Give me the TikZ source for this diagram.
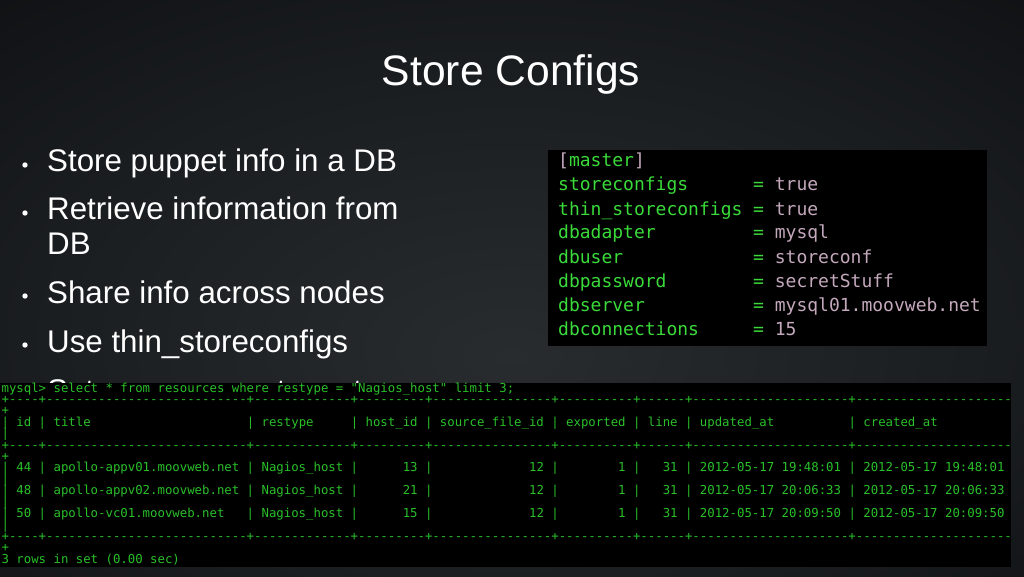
\documentclass[tikz,border=0pt]{standalone}
\usepackage{fontspec}
\setmainfont{Liberation Sans}
\setmonofont{DejaVu Sans Mono}
\usetikzlibrary{positioning}

\definecolor{bgmid}{RGB}{40,44,47}
\definecolor{bgring}{RGB}{26,29,32}
\definecolor{bgedge}{RGB}{7,8,10}
\definecolor{cfggreen}{RGB}{58,218,58}
\definecolor{cfgvalue}{RGB}{196,168,188}
\definecolor{sqlgreen}{RGB}{42,192,42}
\pgfdeclareradialshading{slidebg}{\pgfpoint{0bp}{-6bp}}{%
  color(0bp)=(bgmid); color(24bp)=(bgring); color(50bp)=(bgedge); color(75bp)=(bgedge)}

% padding for the mysql output
\newcommand{\sqlpad}[1]{\foreach \n in {1,...,#1}{\ }}
\newcommand{\sqldash}[1]{\foreach \n in {1,...,#1}{-}}
\newcommand{\sqlquery}{mysql> select * from resources where restype = "Nagios\_host" limit 3;}
\newcommand{\sqlrule}{+\sqldash{4}+\sqldash{27}+\sqldash{13}+\sqldash{9}+\sqldash{16}+\sqldash{10}+\sqldash{6}+\sqldash{21}+\sqldash{21}}
\newcommand{\sqlhead}{| id | title\sqlpad{21}| restype\sqlpad{5}| host\_id | source\_file\_id | exported | line | updated\_at\sqlpad{10}| created\_at\sqlpad{10}}
\newcommand{\sqlrow}[5]{| #1 | #2\sqlpad{#3}| Nagios\_host |\sqlpad{6}#4 |\sqlpad{13}12 |\sqlpad{8}1 |\sqlpad{3}31 | 2012-05-17 #5 | 2012-05-17 #5}
\newcommand{\sqlrowa}{\sqlrow{44}{apollo-appv01.moovweb.net}{1}{13}{19:48:01}}
\newcommand{\sqlrowb}{\sqlrow{48}{apollo-appv02.moovweb.net}{1}{21}{20:06:33}}
\newcommand{\sqlrowc}{\sqlrow{50}{apollo-vc01.moovweb.net}{3}{15}{20:09:50}}
\newcommand{\sqlcount}{3 rows in set (0.00 sec)}

\begin{document}
\begin{tikzpicture}
%defines
  [x=1pt,y=-1pt,
bullettext/.style={anchor=base west,inner sep=0pt,text=white,
font=\fontsize{31.3}{34}\selectfont},
cfgline/.style={anchor=base west,inner sep=0pt,text=cfggreen,
font=\ttfamily\fontsize{18}{24}\selectfont},
sqlline/.style={anchor=base west,inner sep=0pt,text=sqlgreen,
font=\ttfamily\fontsize{12.34}{11.42}\selectfont\frenchspacing},
screen/.style={fill=black,inner sep=0pt,anchor=north west}]
\useasboundingbox (0,0) rectangle (1024,577);
\shade[shading=slidebg] (0,0) rectangle (1024,577);
\node[anchor=base,text=white,font=\fontsize{42.6}{50}\selectfont] (title) at (511,86) {Store Configs};
% bullets
\node[bullettext] (puppet) at (47,172) {Store puppet info in a DB};
\node[bullettext,align=left] (retrieve) at ([yshift=-82pt]puppet.base west) {Retrieve information from\\DB};
\node[bullettext] (share) at ([yshift=-49pt]retrieve.base west) {Share info across nodes};
\node[bullettext] (thin) at ([yshift=-49pt]share.base west) {Use thin\_storeconfigs};
\node[bullettext] (setup) at ([yshift=-49pt]thin.base west) {Set up on puppet master};
\foreach \b/\dy in {puppet/7,retrieve/41,share/7,thin/7,setup/7}
  \fill[white] ([xshift=-22pt,yshift=\dy pt]\b.base west) circle (2.7pt);
% puppet.conf
\node[screen,minimum width=439pt,minimum height=196pt] (conf) at (548,150) {};
\node[cfgline] (master) at (558,167) {\textcolor{cfgvalue}{[}master\textcolor{cfgvalue}{]}};
\foreach \key/\val [count=\i] in {storeconfigs/true,thin\_storeconfigs/true,dbadapter/mysql,
  dbuser/storeconf,dbpassword/secretStuff,dbserver/mysql01.moovweb.net,dbconnections/15}
{
  \node[cfgline] (key\i) at (558,{167+24*\i}) {\key};
  \node[cfgline] (val\i) at (753,{167+24*\i}) {= \textcolor{cfgvalue}{\val}};
}
% mysql output
\node[screen,minimum width=1011pt,minimum height=184pt] (term) at (0,383) {};
\foreach \sqltext [count=\k from 0] in {\sqlquery,\sqlrule,+,\sqlhead,|,\sqlrule,+,\sqlrowa,|,\sqlrowb,|,\sqlrowc,|,\sqlrule,+,\sqlcount}
  \node[sqlline] (sql\k) at (1.4,{392+11.42*\k}) {\sqltext};
\end{tikzpicture}
\end{document}
